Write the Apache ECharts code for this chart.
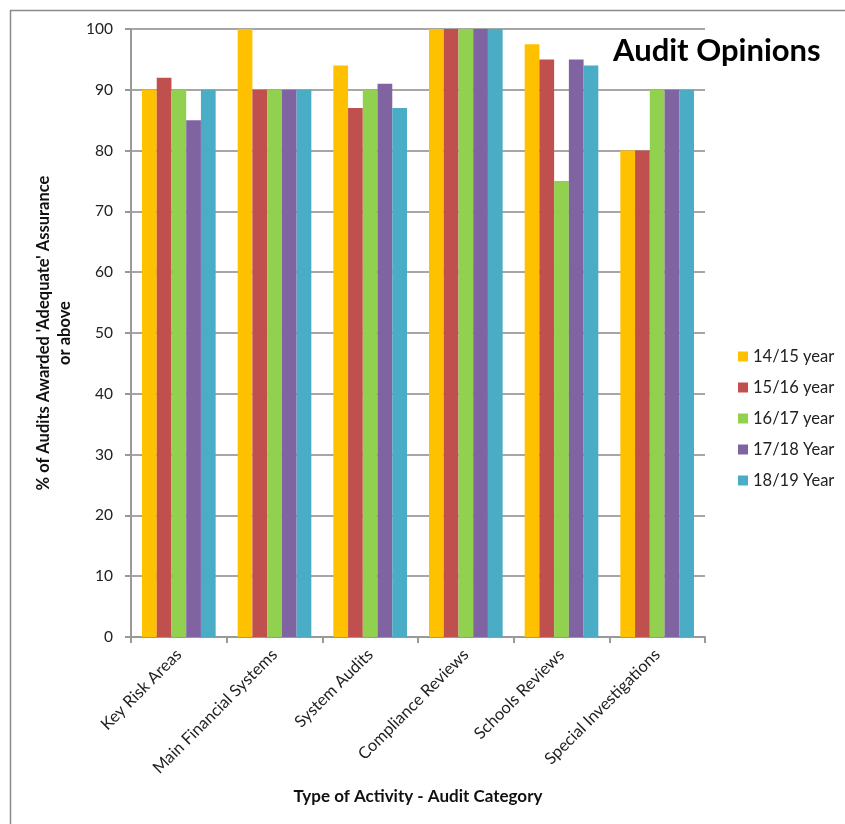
<!DOCTYPE html>
<html>
<head>
<meta charset="utf-8">
<script src="https://cdn.jsdelivr.net/npm/echarts@6/dist/echarts.min.js"></script>
<style>
html,body{margin:0;padding:0;background:#fff;}
#chart{width:845px;height:824px;}
</style>
</head>
<body>
<div id="chart"></div>
<script>
const categories = ['Key Risk Areas', 'Main Financial Systems', 'System Audits', 'Compliance Reviews', 'Schools Reviews', 'Special Investigations'];
const seriesNames = ['14/15 year', '15/16 year', '16/17 year', '17/18 Year', '18/19 Year'];
const y1415 = [90, 100, 94, 100, 97.5, 80];
const y1516 = [92, 90, 87, 100, 95, 80];
const y1617 = [90, 90, 90, 100, 75, 90];
const y1718 = [85, 90, 91, 100, 95, 90];
const y1819 = [90, 90, 87, 100, 94, 90];
const yTicks = [0, 10, 20, 30, 40, 50, 60, 70, 80, 90, 100];

const colors = ['#FFC000', '#C0504D', '#92D050', '#8064A2', '#4BACC6'];
const dataSets = [y1415, y1516, y1617, y1718, y1819];
const FONT = 'Lato';

const chart = echarts.init(document.getElementById('chart'));
chart.setOption({
  animation: false,
  backgroundColor: '#fff',
  color: colors,
  textStyle: { fontFamily: FONT },
  title: {
    text: 'Audit Opinions',
    left: 608, top: 30,
    textStyle: { fontFamily: FONT, fontSize: 31, fontWeight: 'bold', color: '#000' }
  },
  graphic: [{
    type: 'rect', left: 8, top: 8, silent: true, z: -10,
    shape: { x: 0, y: 0, width: 900, height: 900 },
    style: { fill: 'none', stroke: '#8a8a8a', lineWidth: 1.5 }
  }],
  legend: {
    orient: 'vertical', left: 733, top: 342,
    itemWidth: 10, itemHeight: 10, itemGap: 12,
    icon: 'rect',
    textStyle: { fontFamily: FONT, fontSize: 16.5, color: '#222', lineHeight: 19 },
    data: seriesNames
  },
  grid: { left: 131, right: 140, top: 29, bottom: 187 },
  xAxis: {
    type: 'category', data: categories,
    name: 'Type of Activity - Audit Category',
    nameLocation: 'middle', nameGap: 151,
    nameTextStyle: { fontFamily: FONT, fontSize: 17, fontWeight: 'bold', color: '#111' },
    axisLine: { lineStyle: { color: '#999', width: 2 } },
    axisTick: { show: true, length: 6, lineStyle: { color: '#999', width: 2 } },
    axisLabel: { rotate: 45, interval: 0, margin: 15, fontFamily: FONT, fontSize: 16.5, color: '#222' }
  },
  yAxis: {
    type: 'value', min: 0, max: 100, interval: 10,
    name: "% of Audits Awarded 'Adequate' Assurance\nor above",
    nameLocation: 'middle', nameGap: 56, nameRotate: 90,
    nameTextStyle: { fontFamily: FONT, fontSize: 16.5, fontWeight: 'bold', color: '#111', lineHeight: 21, align: 'center' },
    axisLine: { show: true, lineStyle: { color: '#999', width: 2 } },
    axisTick: { show: true, length: 6, lineStyle: { color: '#999', width: 2 } },
    splitLine: { lineStyle: { color: '#a6a6a6', width: 2 } },
    axisLabel: {
      margin: 18, fontFamily: FONT, fontSize: 15.5, color: '#222',
      formatter: v => yTicks.includes(v) ? String(v) : ''
    }
  },
  series: seriesNames.map((n, i) => ({
    name: n, type: 'bar', data: dataSets[i],
    barGap: '0%', barCategoryGap: '23%',
    itemStyle: { color: colors[i] }
  }))
});
</script>
</body>
</html>
